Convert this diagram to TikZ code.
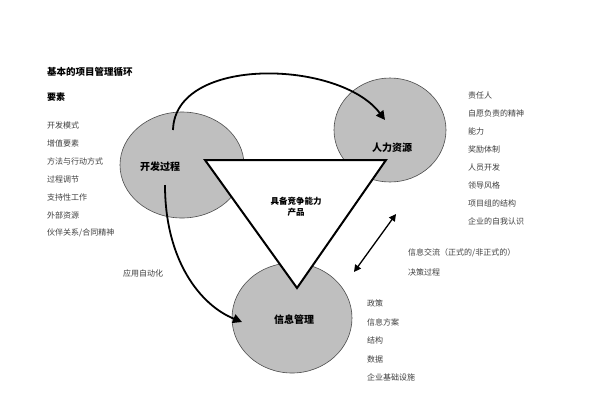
\documentclass[tikz,border=0pt]{standalone}
\usepackage{fontspec}
\setmainfont{Noto Sans CJK SC}
\usetikzlibrary{arrows.meta}
\begin{document}
\begin{tikzpicture}[x=1pt,y=-1pt,
  blob/.style={draw=gray!60!black,fill=gray!50,line width=0.6pt},
  item/.style={anchor=west,font=\fontsize{8}{9}\selectfont,text=black!75,inner sep=0pt},
  title/.style={font=\fontsize{10}{11}\selectfont\bfseries,anchor=center,inner sep=0pt},
  bigarrow/.style={line width=1.8pt,-{Triangle[length=9pt,width=9pt]}}]
\fill[white] (0,0) rectangle (600,400);
\draw[blob] (182,165) ellipse (62 and 53);
\draw[blob] (390,130) ellipse (56 and 52);
\draw[blob] (292,318) ellipse (60 and 55);
\node[title] (dev) at (160,167) {开发过程};
\node[title] (hr) at (392,148) {人力资源};
\node[title] (info) at (294,320) {信息管理};
\coordinate (t1) at (205,160);
\coordinate (t2) at (386,160);
\coordinate (t3) at (297,288);
\draw[fill=white,line width=2pt,line join=miter] (t1) -- (t2) -- (t3) -- cycle;
\node[font=\fontsize{8.5}{11}\selectfont\bfseries,align=center] (prod) at (296,207) {具备竞争能力\\产品};
\coordinate (a1) at (173,130);
\coordinate (a2) at (385,120);
\draw[bigarrow] (a1) .. controls (175,55) and (340,60) .. (a2);
\coordinate (b1) at (165,185);
\coordinate (b2) at (242,322);
\draw[bigarrow] (b1) .. controls (165,260) and (200,305) .. (b2);
\coordinate (c1) at (354,272);
\coordinate (c2) at (396,214);
\draw[line width=1.3pt,{Triangle[length=7pt,width=7pt]}-{Triangle[length=7pt,width=7pt]}] (c1) -- (c2);
\node[item,font=\fontsize{9.5}{10}\selectfont\bfseries\itshape,text=black] (h1) at (47,72) {基本的项目管理循环};
\node[item,font=\fontsize{9}{10}\selectfont\bfseries,text=black] (h2) at (47,97) {要素};
\foreach \t [count=\i] in {开发模式,增值要素,方法与行动方式,过程调节,支持性工作,外部资源,伙伴关系/合同精神}
  \node[item] (l\i) at (47,{107+18*\i}) {\t};
\node[item] (auto) at (123,273) {应用自动化};
\foreach \t [count=\i] in {责任人,自愿负责的精神,能力,奖励体制,人员开发,领导风格,项目组的结构,企业的自我认识}
  \node[item] (r\i) at (468,{77+18*\i}) {\t};
\node[item] (m1) at (408,253) {信息交流（正式的/非正式的）};
\node[item] (m2) at (408,272) {决策过程};
\foreach \t [count=\i] in {政策,信息方案,结构,数据,企业基础设施}
  \node[item] (b\i) at (367,{285+18.5*\i}) {\t};
\end{tikzpicture}
\end{document}
